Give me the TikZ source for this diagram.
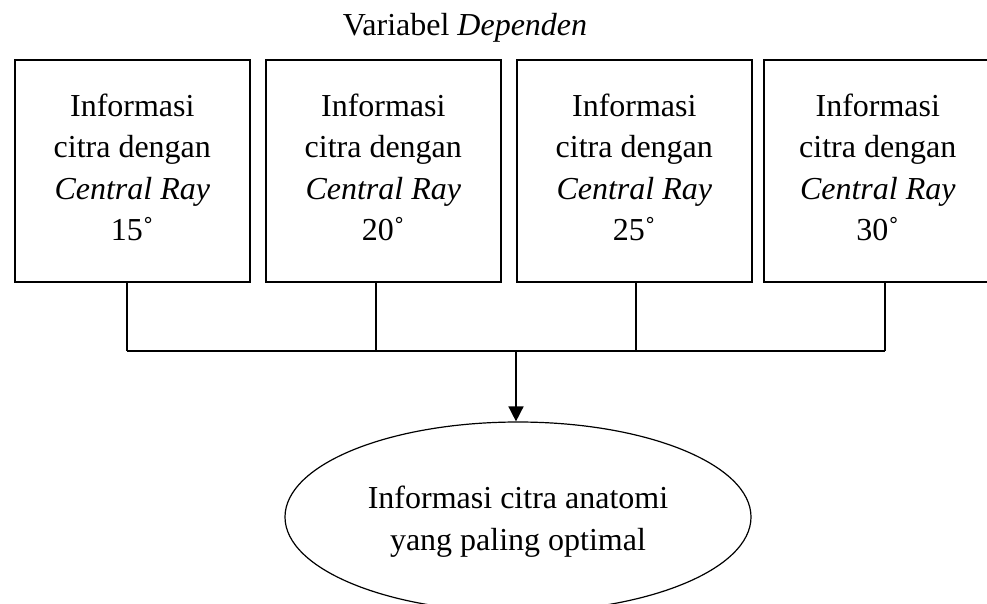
\documentclass[tikz,border=0pt]{standalone}
\usepackage{fontspec}
\setmainfont{Liberation Serif}
\usetikzlibrary{arrows.meta,shapes.geometric}

\tikzset{
  every picture/.style={x=1pt,y=-1pt},
  bodyfont/.style={font=\fontsize{32}{41.3}\selectfont},
  varbox/.style={draw,line width=1.6pt,minimum height=222pt,anchor=north west,
    inner sep=0pt,align=center,text depth=7pt,bodyfont},
  wire/.style={line width=1.6pt},
  outcome/.style={draw,ellipse,line width=1.2pt,minimum width=466pt,minimum height=190pt,
    inner sep=0pt},
  caption/.style={align=center,inner sep=0pt,font=\fontsize{32}{42.3}\selectfont},
}
\newcommand{\raytext}[1]{Informasi\\citra dengan\\\textit{Central Ray}\\#1˚}

\begin{document}
\begin{tikzpicture}
  \useasboundingbox (0,0) rectangle (987,603);

  % heading
  \node[bodyfont,anchor=base] (title) at (465,35) {Variabel \textit{Dependen}};

  % the four independent boxes
  \node[varbox,minimum width=235pt] (b1) at (14,59)  {\raytext{15}};
  \node[varbox,minimum width=235pt] (b2) at (265,59) {\raytext{20}};
  \node[varbox,minimum width=235pt] (b3) at (516,59) {\raytext{25}};
  \node[varbox,minimum width=228pt] (b4) at (763,59) {\raytext{30}};

  % outcome ellipse and its text
  \node[outcome] (out) at (518,517) {};
  \node[caption] (outtext) at ([yshift=-5pt]out.center) {Informasi citra anatomi\\yang paling optimal};

  % junctions on the collecting bus
  \coordinate (j1) at (127,351);
  \coordinate (j2) at (376,351);
  \coordinate (j3) at (636,351);
  \coordinate (j4) at (885,351);
  \coordinate (jm) at (516,351);

  \draw[wire] (j1 |- b1.south) -- (j1);
  \draw[wire] (j2 |- b2.south) -- (j2);
  \draw[wire] (j3 |- b3.south) -- (j3);
  \draw[wire] (j4 |- b4.south) -- (j4);
  \draw[wire] (j1) -- (j4);
  \draw[wire,-{Triangle[width=15pt,length=15pt]}] (jm) -- (jm |- out.north);
\end{tikzpicture}
\end{document}
